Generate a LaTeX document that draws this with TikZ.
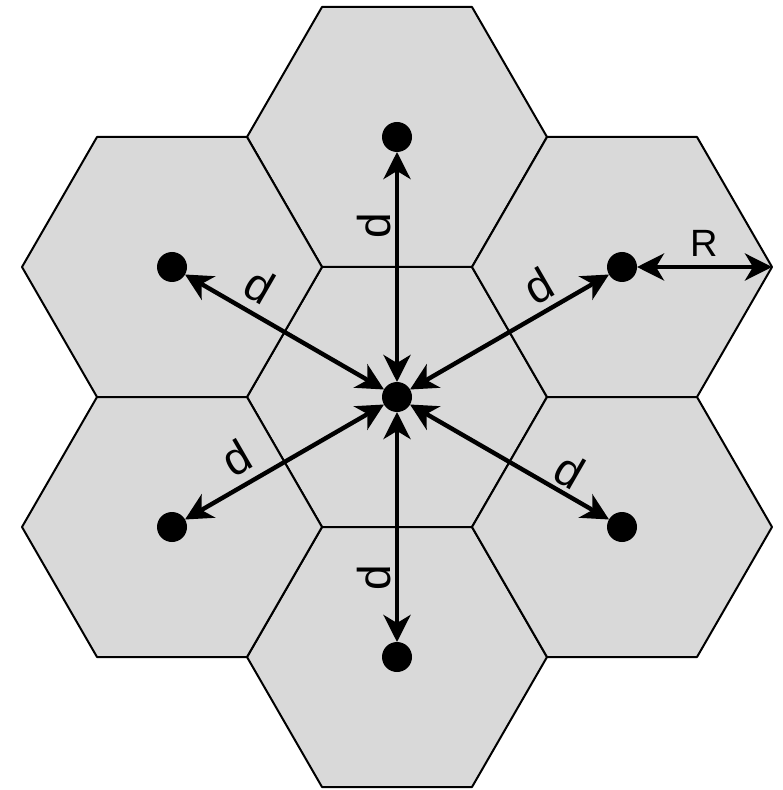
\documentclass[tikz,border=0pt]{standalone}
\usepackage{fontspec}
\setmainfont{Liberation Sans}
\usetikzlibrary{arrows.meta}
\definecolor{cellgray}{RGB}{217,217,217}
\begin{document}
\begin{tikzpicture}[x=0.5pt,y=-0.5pt,
  hexcell/.style={fill=cellgray,draw=black,line width=1pt,line join=round},
  dot/.style={circle,fill=black,minimum size=15pt,inner sep=0pt,outer sep=0pt},
  dtip/.tip={Stealth[length=13.5pt,width=13.5pt,inset=4pt]},
  dist/.style={line width=2.2pt,dtip-dtip},
  dlab/.style={font=\fontsize{23}{23}\selectfont,inner sep=0pt},
  rlab/.style={font=\fontsize{19}{19}\selectfont,inner sep=0pt}]
\useasboundingbox (0,0) rectangle (782,790);
% hexagonal cells
\foreach \cx/\cy in {397/397,397/137,397/657,172/267,622/267,172/527,622/527}
  \draw[hexcell,shift={(\cx,\cy)}] (-150,0) -- (-75,-130) -- (75,-130) -- (150,0) -- (75,130) -- (-75,130) -- cycle;
% cell centres
\node[dot] (c)  at (397,397) {};
\node[dot] (t)  at (397,137) {};
\node[dot] (b)  at (397,657) {};
\node[dot] (ul) at (172,267) {};
\node[dot] (ur) at (622,267) {};
\node[dot] (ll) at (172,527) {};
\node[dot] (lr) at (622,527) {};
\coordinate (rv) at (772,267);
% distances
\draw[dist] (c) -- (t);
\draw[dist] (c) -- (b);
\draw[dist] (c) -- (ul);
\draw[dist] (c) -- (ur);
\draw[dist] (c) -- (ll);
\draw[dist] (c) -- (lr);
\draw[dist] (ur) -- (rv);
% labels
\node[dlab,rotate=90]  (dt)  at (374,226) {d};
\node[dlab,rotate=90]  (db)  at (374,578) {d};
\node[dlab,rotate=-30] (dul) at (260,286) {d};
\node[dlab,rotate=30]  (dur) at (538,286) {d};
\node[dlab,rotate=30]  (dll) at (236,458) {d};
\node[dlab,rotate=-30] (dlr) at (570,471) {d};
\node[rlab] (rl) at (704,243) {R};
\end{tikzpicture}
\end{document}
